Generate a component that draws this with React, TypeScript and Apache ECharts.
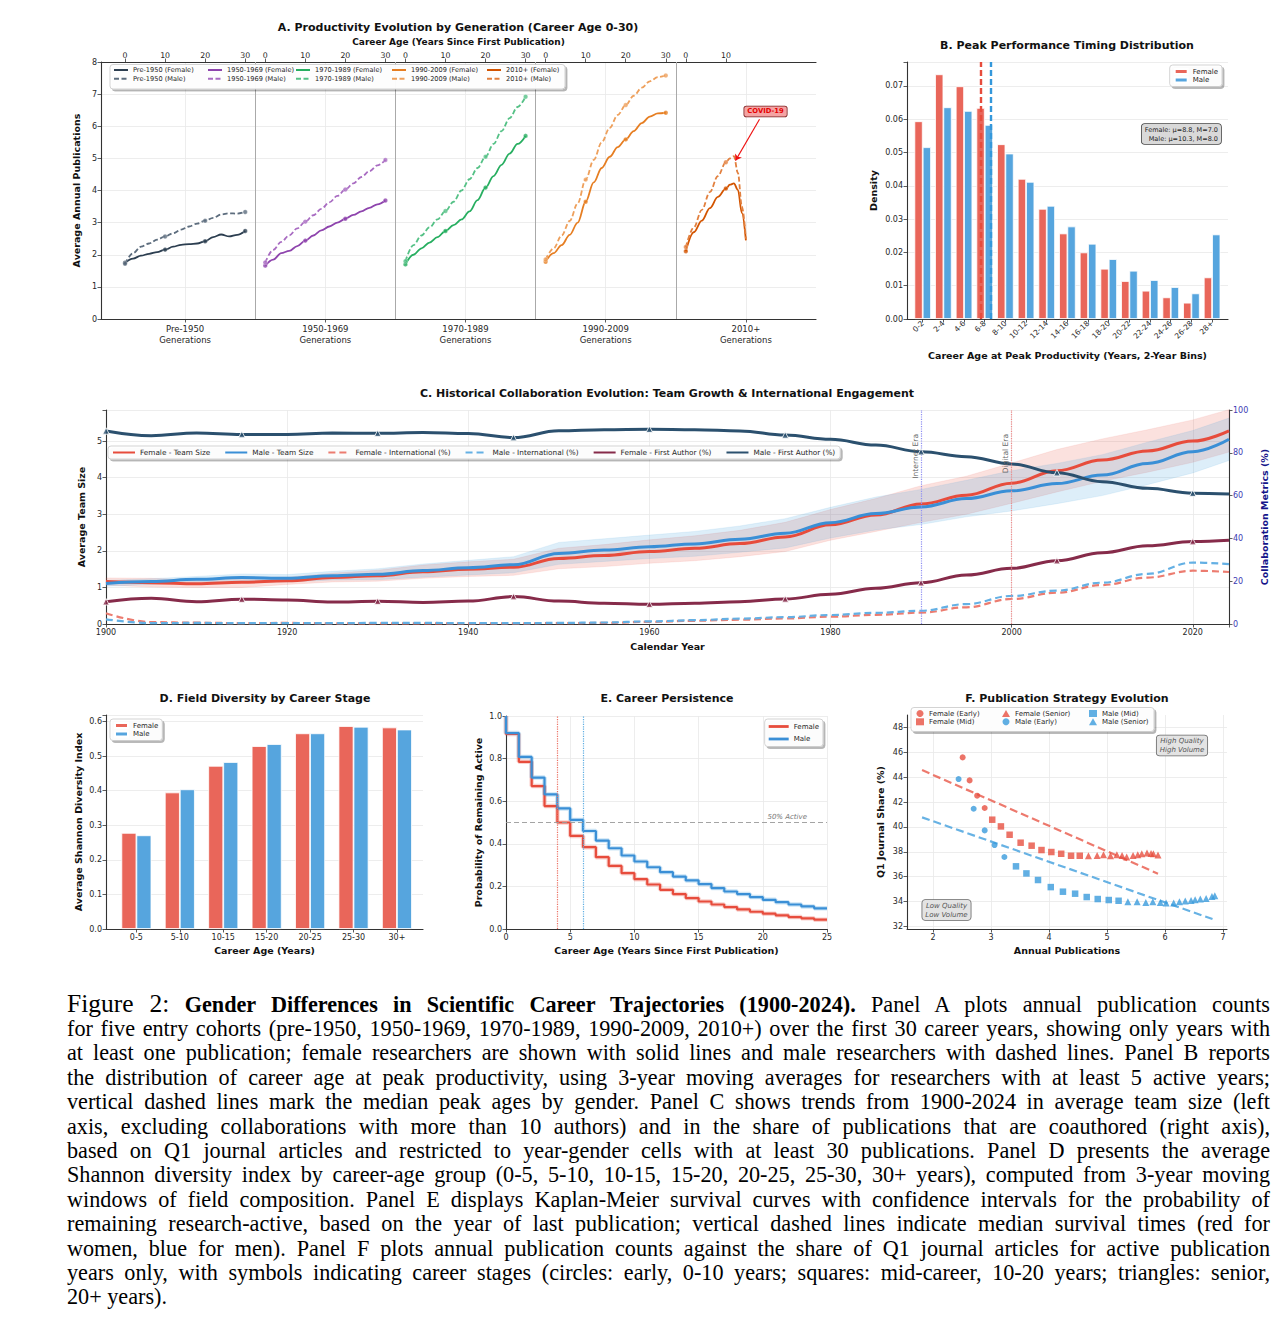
import React, { useEffect, useRef } from "react";
import * as echarts from "echarts";

const FONT = "DejaVu Sans";
const INK = "#262626";
const GRID_LINE = "#e8e8e8";

// ---------------- Panel A: productivity by generation ----------------
const A_GENERATIONS = ["Pre-1950", "1950-1969", "1970-1989", "1990-2009", "2010+"];
const A_GEN_SPACING = 35;
const A_AGES = [0, 2, 4, 6, 8, 10, 12, 14, 16, 18, 20, 22, 24, 26, 28, 30];
const A_AGES_2010 = [0, 2, 4, 6, 8, 10, 11, 12, 13, 14, 15];
const A_FEMALE_PRE1950 = [1.75, 1.88, 1.97, 2.03, 2.08, 2.16, 2.25, 2.31, 2.33, 2.35, 2.42, 2.55, 2.63, 2.57, 2.62, 2.74];
const A_MALE_PRE1950 = [1.72, 2.05, 2.25, 2.35, 2.47, 2.57, 2.67, 2.78, 2.88, 2.97, 3.06, 3.15, 3.25, 3.29, 3.28, 3.33];
const A_FEMALE_1950 = [1.66, 1.85, 2.05, 2.12, 2.27, 2.44, 2.6, 2.76, 2.88, 3.0, 3.12, 3.24, 3.35, 3.46, 3.57, 3.69];
const A_MALE_1950 = [1.76, 2.15, 2.4, 2.6, 2.82, 3.03, 3.23, 3.43, 3.63, 3.83, 4.03, 4.22, 4.42, 4.6, 4.78, 4.95];
const A_FEMALE_1970 = [1.7, 2.0, 2.2, 2.38, 2.55, 2.74, 2.92, 3.1, 3.35, 3.7, 4.09, 4.45, 4.8, 5.15, 5.45, 5.7];
const A_MALE_1970 = [1.8, 2.3, 2.6, 2.85, 3.1, 3.36, 3.65, 4.0, 4.35, 4.7, 5.05, 5.45, 5.85, 6.25, 6.6, 6.92];
const A_FEMALE_1990 = [1.78, 2.05, 2.3, 2.62, 3.0, 3.65, 4.25, 4.7, 5.05, 5.35, 5.59, 5.85, 6.1, 6.3, 6.4, 6.42];
const A_MALE_1990 = [1.85, 2.2, 2.6, 3.05, 3.6, 4.34, 4.95, 5.5, 5.95, 6.35, 6.66, 6.95, 7.2, 7.4, 7.53, 7.58];
const A_FEMALE_2010 = [2.11, 2.7, 3.06, 3.45, 3.8, 4.06, 4.18, 4.22, 4.02, 3.3, 2.45];
const A_MALE_2010 = [2.24, 2.85, 3.4, 3.95, 4.45, 4.88, 5.0, 5.07, 4.55, 3.5, 2.5];
const A_FEMALE = [A_FEMALE_PRE1950, A_FEMALE_1950, A_FEMALE_1970, A_FEMALE_1990, A_FEMALE_2010];
const A_MALE = [A_MALE_PRE1950, A_MALE_1950, A_MALE_1970, A_MALE_1990, A_MALE_2010];
const A_TOP_TICKS = [0, 10, 20, 30];

// ---------------- Panel B: peak timing ----------------
const B_BINS = ["0-2", "2-4", "4-6", "6-8", "8-10", "10-12", "12-14", "14-16", "16-18", "18-20", "20-22", "22-24", "24-26", "26-28", "28+"];
const B_FEMALE = [0.0594, 0.0735, 0.0699, 0.0634, 0.0525, 0.0421, 0.0331, 0.0257, 0.02, 0.0151, 0.0114, 0.0085, 0.0065, 0.0049, 0.0125];
const B_MALE = [0.0516, 0.0636, 0.0625, 0.0583, 0.0497, 0.0412, 0.034, 0.0278, 0.0226, 0.018, 0.0145, 0.0117, 0.0096, 0.0077, 0.0254];
const B_MEAN_FEMALE = 8.8;
const B_MEAN_MALE = 10.3;
const B_MEDIAN_FEMALE = 7.0;
const B_MEDIAN_MALE = 8.0;

// ---------------- Panel C: collaboration ----------------
const C_YEARS = [1900, 1905, 1910, 1915, 1920, 1925, 1930, 1935, 1940, 1945, 1950, 1955, 1960, 1965, 1970, 1975, 1980, 1985, 1990, 1995, 2000, 2005, 2010, 2015, 2020, 2024];
const C_TEAM_FEMALE = [1.16, 1.13, 1.1, 1.14, 1.18, 1.27, 1.32, 1.43, 1.5, 1.55, 1.79, 1.87, 1.98, 2.07, 2.2, 2.38, 2.71, 2.98, 3.28, 3.52, 3.85, 4.19, 4.48, 4.73, 5.0, 5.28];
const C_TEAM_MALE = [1.11, 1.16, 1.22, 1.27, 1.25, 1.32, 1.36, 1.46, 1.54, 1.62, 1.93, 2.02, 2.11, 2.19, 2.32, 2.48, 2.77, 3.02, 3.2, 3.43, 3.64, 3.84, 4.07, 4.39, 4.71, 5.05];
const C_TEAM_FEMALE_CI = [0.1, 0.12, 0.1, 0.14, 0.1, 0.12, 0.15, 0.18, 0.2, 0.22, 0.28, 0.3, 0.32, 0.34, 0.36, 0.4, 0.42, 0.45, 0.5, 0.52, 0.55, 0.58, 0.58, 0.58, 0.58, 0.58];
const C_TEAM_MALE_CI = [0.08, 0.08, 0.08, 0.1, 0.1, 0.12, 0.15, 0.18, 0.2, 0.22, 0.3, 0.31, 0.32, 0.34, 0.36, 0.4, 0.42, 0.45, 0.48, 0.5, 0.55, 0.55, 0.56, 0.58, 0.58, 0.58];
const C_INTL_FEMALE = [5.0, 0.9, 0.6, 0.4, 0.5, 0.3, 0.3, 0.3, 0.3, 0.3, 0.4, 0.5, 1.0, 1.5, 2.0, 2.6, 3.4, 4.3, 5.3, 7.8, 11.7, 14.6, 18.2, 21.7, 24.9, 24.3];
const C_INTL_MALE = [2.2, 0.4, 0.5, 0.4, 0.4, 0.4, 0.5, 0.5, 0.4, 0.4, 0.5, 0.7, 1.2, 1.8, 2.5, 3.2, 4.2, 5.2, 6.2, 9.3, 13.1, 15.6, 19.3, 23.4, 28.7, 28.0];
const C_FIRST_FEMALE = [10.4, 12.0, 10.4, 11.6, 11.2, 10.3, 10.6, 10.1, 10.7, 12.8, 10.7, 9.7, 9.2, 9.7, 10.4, 11.7, 13.9, 16.7, 19.3, 22.9, 26.0, 29.6, 33.3, 36.6, 38.5, 39.1];
const C_FIRST_MALE = [90.2, 88.0, 89.3, 88.6, 88.6, 89.2, 89.1, 89.5, 89.0, 87.1, 90.3, 90.8, 91.0, 90.8, 90.2, 88.3, 86.3, 83.6, 80.5, 78.2, 74.8, 70.7, 66.5, 63.4, 61.1, 60.7];
const C_MARKER_YEARS = [1900, 1915, 1930, 1945, 1960, 1975, 1990, 2005, 2020];
const C_ERAS = [
  { year: 1990, label: "Internet Era" },
  { year: 2000, label: "Digital Era" },
];

// ---------------- Panel D: field diversity ----------------
const D_GROUPS = ["0-5", "5-10", "10-15", "15-20", "20-25", "25-30", "30+"];
const D_FEMALE = [0.278, 0.395, 0.472, 0.529, 0.566, 0.587, 0.583];
const D_MALE = [0.271, 0.404, 0.483, 0.535, 0.566, 0.585, 0.577];

// ---------------- Panel E: survival ----------------
const E_HORIZON = 25;
const E_START = 1.0;
const E_FEMALE = [0.916, 0.785, 0.671, 0.577, 0.5, 0.437, 0.384, 0.337, 0.296, 0.262, 0.234, 0.209, 0.184, 0.164, 0.145, 0.129, 0.115, 0.103, 0.092, 0.081, 0.072, 0.064, 0.056, 0.05, 0.044];
const E_MALE = [0.92, 0.808, 0.711, 0.632, 0.566, 0.512, 0.46, 0.415, 0.379, 0.345, 0.317, 0.29, 0.267, 0.246, 0.228, 0.211, 0.192, 0.176, 0.164, 0.15, 0.137, 0.126, 0.115, 0.106, 0.097];
const E_MEDIAN_FEMALE = 4;
const E_MEDIAN_MALE = 6;

// ---------------- Panel F: publication strategy ----------------
const F_FEMALE_EARLY = [[2.51, 45.59], [2.63, 43.74], [2.76, 42.51], [2.89, 41.52]];
const F_FEMALE_MID = [[3.02, 40.58], [3.17, 40.04], [3.32, 39.37], [3.51, 38.73], [3.7, 38.49], [3.87, 38.14], [4.04, 37.98], [4.21, 37.84], [4.38, 37.68], [4.53, 37.68]];
const F_FEMALE_SENIOR = [[4.68, 37.68], [4.83, 37.71], [4.94, 37.76], [5.06, 37.68], [5.17, 37.76], [5.26, 37.71], [5.34, 37.58], [5.45, 37.71], [5.53, 37.76], [5.6, 37.84], [5.69, 37.9], [5.76, 37.87], [5.8, 37.84], [5.88, 37.74]];
const F_MALE_EARLY = [[2.44, 43.85], [2.7, 41.46], [2.89, 39.72], [3.06, 38.54], [3.23, 37.58]];
const F_MALE_MID = [[3.43, 36.83], [3.61, 36.26], [3.81, 35.73], [4.03, 35.16], [4.24, 34.79], [4.45, 34.63], [4.65, 34.36], [4.84, 34.2], [5.03, 34.12], [5.2, 34.06]];
const F_MALE_SENIOR = [[5.36, 33.98], [5.52, 33.98], [5.67, 33.93], [5.79, 33.98], [5.92, 33.93], [6.02, 33.88], [6.15, 33.88], [6.25, 33.98], [6.35, 34.04], [6.45, 34.09], [6.52, 34.14], [6.61, 34.2], [6.71, 34.25], [6.81, 34.41], [6.86, 34.47]];
const F_TREND_FEMALE = [[1.81, 44.57], [5.88, 36.24]];
const F_TREND_MALE = [[1.81, 40.77], [6.82, 32.59]];
const F_X_TICKS = [2, 3, 4, 5, 6, 7];
const F_Y_TICKS = [32, 34, 36, 38, 40, 42, 44, 46, 48];
const F_LEGEND_COLUMNS = [
  ["Female (Early)", "Female (Mid)"],
  ["Female (Senior)", "Male (Early)"],
  ["Male (Mid)", "Male (Senior)"],
];

// ---------------- Caption ----------------
const CAPTION_LINES = [
  "for five entry cohorts (pre-1950, 1950-1969, 1970-1989, 1990-2009, 2010+) over the first 30 career years, showing only years with",
  "at least one publication; female researchers are shown with solid lines and male researchers with dashed lines. Panel B reports",
  "the distribution of career age at peak productivity, using 3-year moving averages for researchers with at least 5 active years;",
  "vertical dashed lines mark the median peak ages by gender. Panel C shows trends from 1900-2024 in average team size (left",
  "axis, excluding collaborations with more than 10 authors) and in the share of publications that are coauthored (right axis),",
  "based on Q1 journal articles and restricted to year-gender cells with at least 30 publications. Panel D presents the average",
  "Shannon diversity index by career-age group (0-5, 5-10, 10-15, 15-20, 20-25, 25-30, 30+ years), computed from 3-year moving",
  "windows of field composition. Panel E displays Kaplan-Meier survival curves with confidence intervals for the probability of",
  "remaining research-active, based on the year of last publication; vertical dashed lines indicate median survival times (red for",
  "women, blue for men). Panel F plots annual publication counts against the share of Q1 journal articles for active publication",
  "years only, with symbols indicating career stages (circles: early, 0-10 years; squares: mid-career, 10-20 years; triangles: senior,",
  "20+ years).",
];

// ---------------- helpers ----------------
function isObj(v: any) {
  return v && typeof v === "object" && !Array.isArray(v);
}
function merge(a: any, b: any): any {
  const out: any = { ...a };
  Object.keys(b).forEach((k) => {
    out[k] = isObj(a[k]) && isObj(b[k]) ? merge(a[k], b[k]) : b[k];
  });
  return out;
}
function axis(o: any) {
  const base = {
    axisLine: { show: true, onZero: false, lineStyle: { color: "#333", width: 1.1 } },
    axisTick: { show: true, inside: false, length: 3.5, lineStyle: { color: "#333", width: 0.8 } },
    axisLabel: { show: true, color: INK, fontSize: 8, fontFamily: FONT, margin: 4 },
    splitLine: { show: false, lineStyle: { color: GRID_LINE, width: 0.8 } },
    nameLocation: "middle",
    nameTextStyle: { fontFamily: FONT, fontSize: 9.5, fontWeight: "bold", color: "#111" },
  };
  return merge(base, o);
}
const legendBox = {
  backgroundColor: "rgba(255,255,255,0.92)",
  borderColor: "#c8c8c8",
  borderWidth: 0.8,
  borderRadius: 3,
  shadowColor: "rgba(0,0,0,0.3)",
  shadowBlur: 1,
  shadowOffsetX: 2,
  shadowOffsetY: 2,
};
const boxRect = (x: number, y: number, w: number, h: number) => ({
  type: "rect",
  silent: true,
  z: 15,
  shape: { x, y, width: w, height: h, r: 3 },
  style: {
    fill: "rgba(255,255,255,0.95)",
    stroke: "#c8c8c8",
    lineWidth: 0.8,
    shadowColor: "rgba(0,0,0,0.3)",
    shadowBlur: 1,
    shadowOffsetX: 2,
    shadowOffsetY: 2,
  },
});
const titleText = (text: string, x: number, y: number) => ({
  type: "text",
  x,
  y,
  silent: true,
  style: { text, align: "center", verticalAlign: "middle", fontFamily: FONT, fontWeight: "bold", fontSize: 11, fill: "#111" },
});

function buildOption() {
  // ---------- Panel A series ----------
  const A_COLOR_FEMALE = ["#2c3e50", "#8e44ad", "#27ae60", "#e67e22", "#d35400"];
  const A_COLOR_MALE = ["#5d6d7e", "#a96cc2", "#55c186", "#eea05c", "#e2803f"];
  const aSeries: any[] = [];
  const aLegendF: string[] = [];
  const aLegendM: string[] = [];
  const topTicks: number[] = [];
  A_GENERATIONS.forEach((g, gi) => {
    const ages = gi === 4 ? A_AGES_2010 : A_AGES;
    const maxAge = ages[ages.length - 1];
    A_TOP_TICKS.filter((t) => t <= maxAge).forEach((t) => topTicks.push(gi * A_GEN_SPACING + t));
    const variants: any[] = [
      ["Female", A_FEMALE[gi], A_COLOR_FEMALE[gi], "solid"],
      ["Male", A_MALE[gi], A_COLOR_MALE[gi], [5, 2.5]],
    ];
    variants.forEach(([sex, vals, color, dash]) => {
      const name = `${g} (${sex})`;
      (sex === "Female" ? aLegendF : aLegendM).push(name);
      const pts = ages.map((a, i) => [gi * A_GEN_SPACING + a, vals[i]]);
      aSeries.push({
        type: "line",
        name,
        xAxisIndex: 0,
        yAxisIndex: 0,
        data: pts,
        smooth: 0.35,
        smoothMonotone: "x",
        symbol: "none",
        color,
        lineStyle: { color, width: 1.8, type: dash },
        z: 3,
      });
      aSeries.push({
        type: "scatter",
        xAxisIndex: 0,
        yAxisIndex: 0,
        data: pts.filter((_, i) => ages[i] % 10 === 0),
        symbol: "circle",
        symbolSize: 4.5,
        itemStyle: { color, borderColor: "rgba(255,255,255,0.7)", borderWidth: 0.5 },
        silent: true,
        z: 4,
      });
    });
  });
  const centers = A_GENERATIONS.map((_, gi) => gi * A_GEN_SPACING + 15);
  const separators = A_GENERATIONS.slice(1).map((_, gi) => gi * A_GEN_SPACING + 32.5);
  aSeries[0].markLine = {
    silent: true,
    symbol: ["none", "none"],
    label: { show: false },
    z: 1,
    data: separators.map((x) => ({ xAxis: x, lineStyle: { color: "#aaa", width: 1, type: "solid" } })),
  };
  const covidSeries = aSeries.find((s) => s.name === "2010+ (Male)");
  covidSeries.markLine = {
    silent: true,
    symbol: ["none", "arrow"],
    symbolSize: 6,
    label: { show: false },
    lineStyle: { color: "#ee1111", width: 1.1, type: "solid" },
    data: [[{ coord: [158.4, 6.22] }, { coord: [152.4, 4.93] }]],
  };
  covidSeries.markPoint = {
    silent: true,
    symbol: "rect",
    symbolSize: 1,
    itemStyle: { color: "rgba(0,0,0,0)" },
    data: [{ coord: [159.9, 6.46] }],
    label: {
      show: true,
      position: "inside",
      formatter: "COVID-19",
      color: "#e60000",
      fontWeight: "bold",
      fontFamily: FONT,
      fontSize: 6.8,
      backgroundColor: "#f4a3a3",
      borderColor: "#7a1f1f",
      borderWidth: 0.8,
      borderRadius: 2,
      padding: [2, 3, 1, 3],
    },
  };

  // ---------- Panel B ----------
  const binPos = (m: number) => (m - 1) / 2;
  const bSeries = [
    {
      type: "bar",
      name: "Female",
      xAxisIndex: 2,
      yAxisIndex: 1,
      data: B_BINS.map((_, i) => [i, B_FEMALE[i]]),
      barWidth: 8.3,
      barGap: "0%",
      color: "#e9665a",
      itemStyle: { color: "#e9665a", borderColor: "#fff", borderWidth: 0.8 },
      markLine: {
        silent: true,
        symbol: ["none", "none"],
        label: { show: false },
        data: [
          { xAxis: binPos(B_MEDIAN_FEMALE), lineStyle: { color: "#e74c3c", width: 2.4, type: [6, 3] } },
          { xAxis: binPos(B_MEDIAN_MALE), lineStyle: { color: "#3498db", width: 2.4, type: [6, 3] } },
        ],
      },
    },
    {
      type: "bar",
      name: "Male",
      xAxisIndex: 2,
      yAxisIndex: 1,
      data: B_BINS.map((_, i) => [i, B_MALE[i]]),
      barWidth: 8.3,
      barGap: "0%",
      color: "#56a5de",
      itemStyle: { color: "#56a5de", borderColor: "#fff", borderWidth: 0.8 },
    },
  ];

  // ---------- Panel C ----------
  const band = (mean: number[], hw: number[], color: string) => ({
    type: "custom",
    xAxisIndex: 3,
    yAxisIndex: 2,
    silent: true,
    z: 1,
    data: [[C_YEARS[0], mean[0]]],
    renderItem: (_p: any, api: any) => {
      const pts: any[] = [];
      C_YEARS.forEach((y, i) => pts.push(api.coord([y, mean[i] + hw[i]])));
      for (let i = C_YEARS.length - 1; i >= 0; i--) pts.push(api.coord([C_YEARS[i], mean[i] - hw[i]]));
      return { type: "polygon", shape: { points: pts }, style: { fill: color, stroke: color, lineWidth: 0.6, opacity: 0.17 } };
    },
  });
  const cLine = (name: string, vals: number[], color: string, yIdx: number, dash: any, width: number) => ({
    type: "line",
    name,
    xAxisIndex: 3,
    yAxisIndex: yIdx,
    data: C_YEARS.map((y, i) => [y, vals[i]]),
    smooth: 0.4,
    smoothMonotone: "x",
    symbol: "none",
    color,
    lineStyle: { color, width, type: dash },
    z: 3,
  });
  const cMarkers = (vals: number[], color: string) => ({
    type: "scatter",
    xAxisIndex: 3,
    yAxisIndex: 3,
    silent: true,
    z: 5,
    symbol: "triangle",
    symbolSize: 6.5,
    itemStyle: { color, borderColor: "#fff", borderWidth: 1 },
    data: C_MARKER_YEARS.map((y) => [y, vals[C_YEARS.indexOf(y)]]),
  });
  const cTeamF: any = cLine("Female - Team Size", C_TEAM_FEMALE, "#e74c3c", 2, "solid", 3);
  cTeamF.markLine = {
    silent: true,
    symbol: ["none", "none"],
    data: C_ERAS.map((e, i) => ({
      xAxis: e.year,
      lineStyle: { color: i === 0 ? "#8f8ff2" : "#f08a8a", width: 1.2, type: "dotted" },
      label: {
        show: true,
        formatter: e.label,
        position: "insideEndTop",
        color: "#666",
        fontFamily: FONT,
        fontSize: 7.5,
        distance: [24, 2],
      },
    })),
  };
  const cSeries = [
    band(C_TEAM_FEMALE, C_TEAM_FEMALE_CI, "#e74c3c"),
    band(C_TEAM_MALE, C_TEAM_MALE_CI, "#3498db"),
    cTeamF,
    cLine("Male - Team Size", C_TEAM_MALE, "#3a8fd6", 2, "solid", 3),
    cLine("Female - International (%)", C_INTL_FEMALE, "#ec7c70", 3, [7, 4], 2.2),
    cLine("Male - International (%)", C_INTL_MALE, "#64b0e4", 3, [7, 4], 2.2),
    cLine("Female - First Author (%)", C_FIRST_FEMALE, "#862b4a", 3, "solid", 3),
    cLine("Male - First Author (%)", C_FIRST_MALE, "#2b506e", 3, "solid", 3),
    cMarkers(C_FIRST_FEMALE, "#862b4a"),
    cMarkers(C_FIRST_MALE, "#2b506e"),
  ];

  // ---------- Panel D ----------
  const dSeries = [
    {
      type: "bar",
      name: "Female",
      xAxisIndex: 4,
      yAxisIndex: 4,
      data: D_GROUPS.map((_, i) => [i, D_FEMALE[i]]),
      barWidth: 15,
      barGap: "0%",
      color: "#e9665a",
      itemStyle: { color: "#e9665a", borderColor: "#fff", borderWidth: 0.8 },
    },
    {
      type: "bar",
      name: "Male",
      xAxisIndex: 4,
      yAxisIndex: 4,
      data: D_GROUPS.map((_, i) => [i, D_MALE[i]]),
      barWidth: 15,
      barGap: "0%",
      color: "#56a5de",
      itemStyle: { color: "#56a5de", borderColor: "#fff", borderWidth: 0.8 },
    },
  ];

  // ---------- Panel E ----------
  const stepData = (vals: number[]) => [[0, E_START], ...vals.map((v, i) => [i, v]), [E_HORIZON, vals[vals.length - 1]]];
  const eLine = (name: string, vals: number[], color: string) => ({
    type: "line",
    name,
    xAxisIndex: 5,
    yAxisIndex: 5,
    data: stepData(vals),
    step: "end",
    symbol: "none",
    color,
    lineStyle: { color, width: 2.2 },
    z: 3,
  });
  const eHalo = (vals: number[], color: string) => ({
    type: "line",
    xAxisIndex: 5,
    yAxisIndex: 5,
    data: stepData(vals),
    step: "end",
    symbol: "none",
    silent: true,
    lineStyle: { color, width: 4.5, opacity: 0.25 },
    z: 2,
  });
  const eFemale: any = eLine("Female", E_FEMALE, "#e74c3c");
  eFemale.markLine = {
    silent: true,
    symbol: ["none", "none"],
    label: { show: false },
    data: [
      { xAxis: E_MEDIAN_FEMALE, lineStyle: { color: "#ec7063", width: 1.2, type: "dotted" } },
      { xAxis: E_MEDIAN_MALE, lineStyle: { color: "#5dade2", width: 1.2, type: "dotted" } },
      {
        yAxis: 0.5,
        lineStyle: { color: "#9a9a9a", width: 0.9, type: [5, 3] },
        label: {
          show: true,
          formatter: "50% Active",
          position: "insideEndTop",
          color: "#777",
          fontStyle: "italic",
          fontFamily: FONT,
          fontSize: 7,
          distance: [20, 2],
        },
      },
    ],
  };
  const eSeries = [eHalo(E_FEMALE, "#e74c3c"), eHalo(E_MALE, "#3498db"), eFemale, eLine("Male", E_MALE, "#3a8fd6")];

  // ---------- Panel F ----------
  const fScatter = (name: string, data: number[][], color: string, symbol: string, size: number) => ({
    type: "scatter",
    name,
    xAxisIndex: 6,
    yAxisIndex: 6,
    data,
    symbol,
    symbolSize: size,
    color,
    itemStyle: { color, opacity: 0.78 },
    z: 4,
  });
  const fTrend = (data: number[][], color: string) => ({
    type: "line",
    xAxisIndex: 6,
    yAxisIndex: 6,
    data,
    symbol: "none",
    silent: true,
    lineStyle: { color, width: 2.2, type: [8, 4], opacity: 0.75 },
    z: 3,
  });
  const FEM = "#e74c3c";
  const MAL = "#3498db";
  const fSeries = [
    fScatter("Female (Early)", F_FEMALE_EARLY, FEM, "circle", 6),
    fScatter("Female (Mid)", F_FEMALE_MID, FEM, "rect", 6.5),
    fScatter("Female (Senior)", F_FEMALE_SENIOR, FEM, "triangle", 7),
    fScatter("Male (Early)", F_MALE_EARLY, MAL, "circle", 6),
    fScatter("Male (Mid)", F_MALE_MID, MAL, "rect", 6.5),
    fScatter("Male (Senior)", F_MALE_SENIOR, MAL, "triangle", 7),
    fTrend(F_TREND_FEMALE, FEM),
    fTrend(F_TREND_MALE, MAL),
  ];

  const split = { show: true, lineStyle: { color: GRID_LINE, width: 0.8 } };
  const grids = [
    { left: 101, top: 62, width: 715, height: 257 },
    { left: 907, top: 62, width: 321, height: 257 },
    { left: 106, top: 410, width: 1123, height: 214 },
    { left: 106, top: 715, width: 317, height: 214 },
    { left: 506, top: 716, width: 321, height: 213 },
    { left: 907, top: 715, width: 320, height: 214 },
  ].map((g) => ({ ...g, containLabel: false, outerBoundsMode: "none" }));

  const xAxes = [
    axis({
      type: "value",
      gridIndex: 0,
      min: -6,
      max: 172.5,
      position: "bottom",
      axisTick: { customValues: centers },
      axisLabel: {
        customValues: centers,
        fontSize: 8.5,
        lineHeight: 11,
        formatter: (v: number) => `${A_GENERATIONS[Math.round((v - 15) / A_GEN_SPACING)]}\nGenerations`,
      },
      splitLine: split,
    }),
    axis({
      type: "value",
      gridIndex: 0,
      min: -6,
      max: 172.5,
      position: "top",
      name: "Career Age (Years Since First Publication)",
      nameGap: 16,
      nameTextStyle: { fontSize: 9 },
      axisTick: { customValues: topTicks },
      axisLabel: {
        customValues: topTicks,
        fontSize: 7.8,
        margin: 3,
        formatter: (v: number) => String(Math.round(v - Math.floor((v + 2.5) / A_GEN_SPACING) * A_GEN_SPACING)),
      },
    }),
    axis({
      type: "value",
      gridIndex: 1,
      min: -0.76,
      max: 14.77,
      name: "Career Age at Peak Productivity (Years, 2-Year Bins)",
      nameGap: 31,
      axisTick: { customValues: B_BINS.map((_, i) => i) },
      axisLabel: {
        customValues: B_BINS.map((_, i) => i),
        rotate: 45,
        fontSize: 7.5,
        margin: 3,
        formatter: (v: number) => B_BINS[Math.round(v)],
      },
    }),
    axis({
      type: "value",
      gridIndex: 2,
      min: 1900,
      max: 2024,
      interval: 20,
      name: "Calendar Year",
      nameGap: 17,
      splitLine: split,
      axisLabel: { formatter: (v: number) => (v % 20 === 0 ? String(v) : "") },
    }),
    axis({
      type: "value",
      gridIndex: 3,
      min: -0.7,
      max: 6.6,
      name: "Career Age (Years)",
      nameGap: 16,
      axisTick: { customValues: D_GROUPS.map((_, i) => i) },
      axisLabel: { customValues: D_GROUPS.map((_, i) => i), formatter: (v: number) => D_GROUPS[Math.round(v)] },
    }),
    axis({
      type: "value",
      gridIndex: 4,
      min: 0,
      max: E_HORIZON,
      interval: 5,
      name: "Career Age (Years Since First Publication)",
      nameGap: 16,
      splitLine: split,
    }),
    axis({
      type: "value",
      gridIndex: 5,
      min: 1.55,
      max: 7.07,
      name: "Annual Publications",
      nameGap: 16,
      axisTick: { customValues: F_X_TICKS },
      axisLabel: { customValues: F_X_TICKS },
      splitLine: split,
    }),
  ];

  const yAxes = [
    axis({ type: "value", gridIndex: 0, min: 0, max: 8, interval: 1, name: "Average Annual Publications", nameGap: 11, splitLine: split }),
    axis({
      type: "value",
      gridIndex: 1,
      min: 0,
      max: 0.0772,
      interval: 0.01,
      name: "Density",
      nameGap: 29,
      splitLine: split,
      axisLabel: { formatter: (v: number) => (v > 0.0705 ? "" : v.toFixed(2)) },
    }),
    axis({ type: "value", gridIndex: 2, min: 0, max: 5.85, interval: 1, name: "Average Team Size", nameGap: 16, splitLine: split, axisLabel: { formatter: (v: number) => (v > 5.5 ? "" : String(v)) } }),
    axis({
      type: "value",
      gridIndex: 2,
      position: "right",
      min: 0,
      max: 100,
      interval: 20,
      name: "Collaboration Metrics (%)",
      nameGap: 28,
      nameTextStyle: { color: "#14148a" },
      axisLabel: { color: "#3b3bb3" },
    }),
    axis({
      type: "value",
      gridIndex: 3,
      min: 0,
      max: 0.619,
      interval: 0.1,
      name: "Average Shannon Diversity Index",
      nameGap: 23,
      splitLine: split,
      axisLabel: { formatter: (v: number) => (v > 0.61 ? "" : v.toFixed(1)) },
    }),
    axis({
      type: "value",
      gridIndex: 4,
      min: 0,
      max: 1,
      interval: 0.2,
      name: "Probability of Remaining Active",
      nameGap: 23,
      splitLine: split,
      axisLabel: { formatter: (v: number) => v.toFixed(1) },
    }),
    axis({
      type: "value",
      gridIndex: 5,
      min: 31.79,
      max: 49.0,
      name: "Q1 Journal Share (%)",
      nameGap: 22,
      axisTick: { customValues: F_Y_TICKS },
      axisLabel: { customValues: F_Y_TICKS },
      splitLine: split,
    }),
  ];

  const legendText = (size: number) => ({ fontSize: size, fontFamily: FONT, color: INK });
  const hideSymbol = { itemStyle: { opacity: 0 } };

  const aColumnLefts = [113, 207, 295, 391, 486];
  const aLegends = A_GENERATIONS.map((_, gi) => ({
    ...hideSymbol,
    z: 20,
    data: [aLegendF[gi], aLegendM[gi]],
    left: aColumnLefts[gi],
    top: 66.5,
    orient: "vertical",
    itemWidth: 14,
    itemHeight: 6,
    itemGap: 1.8,
    padding: 0,
    textStyle: legendText(6.6),
  }));
  const fColumnLefts = [916, 1002, 1089];
  const fLegends = F_LEGEND_COLUMNS.map((col, ci) => ({
    z: 20,
    data: col,
    left: fColumnLefts[ci],
    top: 710,
    orient: "vertical",
    itemWidth: 8,
    itemHeight: 7,
    itemGap: 1.3,
    padding: 0,
    textStyle: legendText(7),
  }));

  const legends = [
    ...aLegends,
    ...fLegends,
    {
      ...legendBox,
      z: 20,
      data: ["Female", "Male"].map((n) => ({ name: n, icon: "rect" })),
      right: 58,
      top: 65,
      orient: "vertical",
      itemWidth: 13,
      itemHeight: 5,
      itemGap: 1.5,
      padding: [3, 4, 3, 4],
      textStyle: legendText(7),
    },
    {
      ...legendBox,
      ...hideSymbol,
      z: 20,
      data: ["Female - Team Size", "Male - Team Size", "Female - International (%)", "Male - International (%)", "Female - First Author (%)", "Male - First Author (%)"],
      left: 108,
      top: 446,
      orient: "horizontal",
      itemWidth: 22,
      itemHeight: 7,
      itemGap: 14,
      padding: [3, 5, 3, 4],
      textStyle: legendText(7.3),
    },
    {
      ...legendBox,
      z: 20,
      data: ["Female", "Male"].map((n) => ({ name: n, icon: "rect" })),
      left: 110,
      top: 719,
      orient: "vertical",
      itemWidth: 13,
      itemHeight: 5,
      itemGap: 1.5,
      padding: [3, 4, 3, 4],
      textStyle: legendText(7),
    },
    {
      ...legendBox,
      z: 20,
      data: [
        { name: "Female", icon: "rect", itemStyle: { color: "#e74c3c", opacity: 1, borderWidth: 0, borderColor: "#e74c3c" } },
        { name: "Male", icon: "rect", itemStyle: { color: "#3a8fd6", opacity: 1, borderWidth: 0, borderColor: "#3a8fd6" } },
      ],
      right: 457,
      top: 719,
      orient: "vertical",
      itemWidth: 20,
      itemHeight: 2.8,
      itemGap: 5.5,
      padding: [4, 4, 4, 4],
      textStyle: legendText(7),
    },
  ];

  const graphics: any[] = [
    titleText("A. Productivity Evolution by Generation (Career Age 0-30)", 458, 27),
    titleText("B. Peak Performance Timing Distribution", 1067, 45),
    titleText("C. Historical Collaboration Evolution: Team Growth & International Engagement", 667, 393),
    titleText("D. Field Diversity by Career Stage", 265, 698),
    titleText("E. Career Persistence", 667, 698),
    titleText("F. Publication Strategy Evolution", 1067, 698),
    boxRect(110, 64.5, 455, 24.5),
    boxRect(911, 707.5, 243, 24),
    {
      type: "text",
      x: 1221,
      y: 124,
      silent: true,
      z: 10,
      style: {
        text: `Female: μ=${B_MEAN_FEMALE.toFixed(1)}, M=${B_MEDIAN_FEMALE.toFixed(1)}\nMale: μ=${B_MEAN_MALE.toFixed(1)}, M=${B_MEDIAN_MALE.toFixed(1)}`,
        align: "right",
        verticalAlign: "top",
        fontFamily: FONT,
        fontSize: 6.5,
        lineHeight: 9,
        fill: "#222",
        backgroundColor: "#d9d9d9",
        borderColor: "#444",
        borderWidth: 0.8,
        borderRadius: 3,
        padding: [1, 3, 1, 3],
      },
    },
    {
      type: "text",
      x: 1182,
      y: 745.5,
      silent: true,
      z: 10,
      style: {
        text: "High Quality\nHigh Volume",
        align: "center",
        verticalAlign: "middle",
        fontFamily: FONT,
        fontStyle: "italic",
        fontSize: 7,
        lineHeight: 9,
        fill: "#555",
        backgroundColor: "#e3e3e3",
        borderColor: "#666",
        borderWidth: 0.8,
        borderRadius: 3,
        padding: [1, 3, 1, 3],
      },
    },
    {
      type: "text",
      x: 946.5,
      y: 910,
      silent: true,
      z: 10,
      style: {
        text: "Low Quality\nLow Volume",
        align: "center",
        verticalAlign: "middle",
        fontFamily: FONT,
        fontStyle: "italic",
        fontSize: 7,
        lineHeight: 9,
        fill: "#555",
        backgroundColor: "#e3e3e3",
        borderColor: "#666",
        borderWidth: 0.8,
        borderRadius: 3,
        padding: [1, 3, 1, 3],
      },
    },
  ];

  return {
    animation: false,
    backgroundColor: "#ffffff",
    textStyle: { fontFamily: FONT },
    grid: grids,
    xAxis: xAxes,
    yAxis: yAxes,
    legend: legends,
    graphic: graphics,
    series: [...aSeries, ...bSeries, ...cSeries, ...dSeries, ...eSeries, ...fSeries],
  };
}

export default function App() {
  const ref = useRef<HTMLDivElement>(null);
  useEffect(() => {
    if (!ref.current) return;
    const chart = echarts.init(ref.current, null, { renderer: "svg" });
    chart.setOption(buildOption() as any);
    return () => chart.dispose();
  }, []);
  const lineStyle: React.CSSProperties = {
    height: 24.4,
    lineHeight: "24.4px",
    textAlign: "justify",
    textAlignLast: "justify",
    whiteSpace: "nowrap",
    overflow: "visible",
  };
  return (
    <div style={{ position: "absolute", left: 0, top: 0, width: 1280, height: 1320, background: "#fff" }}>
      <div ref={ref} style={{ position: "absolute", left: 0, top: 0, width: 1280, height: 975 }} />
      <div
        style={{
          position: "absolute",
          left: 67,
          top: 990,
          width: 1203,
          fontFamily: "'Liberation Serif', 'DejaVu Serif', serif",
          fontSize: 22.2,
          color: "#000",
        }}
      >
        <div style={{ ...lineStyle, height: 27, lineHeight: "27px" }}>
          <span style={{ fontSize: 25.5 }}>Figure 2:</span> <b>Gender Differences in Scientific Career Trajectories (1900-2024).</b> Panel A plots annual publication counts
        </div>
        {CAPTION_LINES.map((t, i) => (
          <div key={i} style={i === CAPTION_LINES.length - 1 ? { ...lineStyle, textAlignLast: "left" } : lineStyle}>
            {t}
          </div>
        ))}
      </div>
    </div>
  );
}
